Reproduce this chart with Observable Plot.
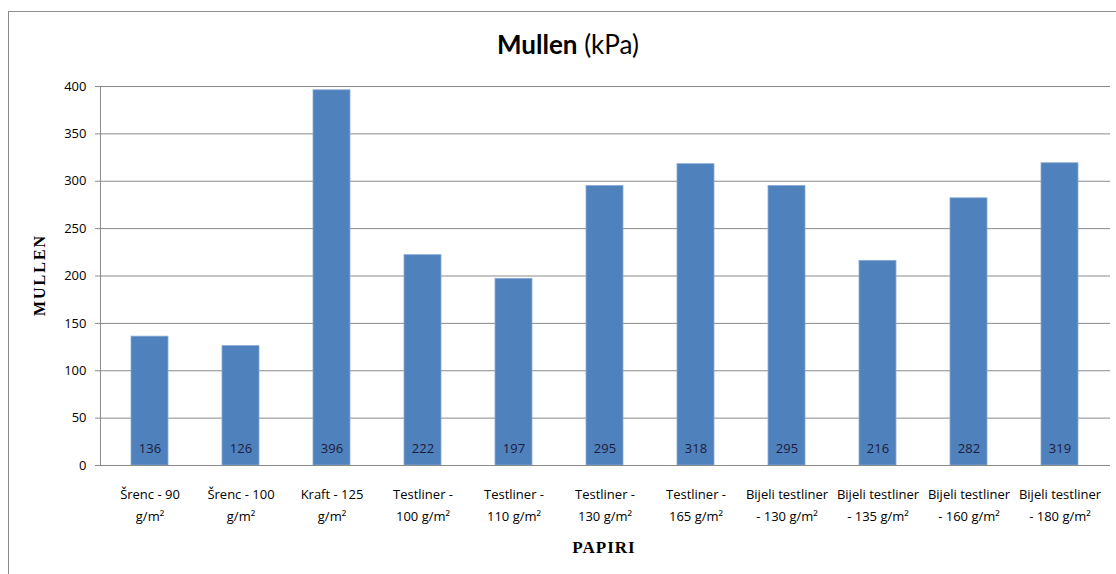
<!DOCTYPE html>
<html>
<head>
<meta charset="utf-8">
<script src="https://cdn.jsdelivr.net/npm/d3@7"></script>
<script src="https://cdn.jsdelivr.net/npm/@observablehq/plot@0.6"></script>
<style>
  html, body { margin: 0; padding: 0; background: #fff; overflow: hidden; }
  #wrap { position: relative; width: 1116px; height: 574px; }
  #frame { position: absolute; left: 8px; top: 11px; width: 1200px; height: 700px; border: 1px solid #8c8c8c; box-sizing: border-box; pointer-events: none; }
  #title { position: absolute; left: 0; width: 1136px; top: 28px; text-align: center; font-family: Lato, "Open Sans", sans-serif; font-size: 26px; color: #000; }
  #title b { font-weight: 700; }
  #ylab { position: absolute; left: 40px; top: 275px; transform: translate(-50%, -50%) rotate(-90deg); font-family: "Liberation Serif", "DejaVu Serif", serif; font-weight: bold; font-size: 16px; letter-spacing: 2px; white-space: nowrap; }
  #xlab { position: absolute; left: 604px; top: 548px; transform: translate(-50%, -50%); font-family: "Liberation Serif", "DejaVu Serif", serif; font-weight: bold; font-size: 17px; letter-spacing: 1px; white-space: nowrap; }
  #chart { position: absolute; left: 0; top: 0; }
</style>
</head>
<body>
<div id="wrap">
  <div id="chart"></div>
  <div id="frame"></div>
  <div id="title"><b>Mullen</b> (kPa)</div>
  <div id="ylab">MULLEN</div>
  <div id="xlab">PAPIRI</div>
</div>
<script>
const categories = [
  "Šrenc - 90\ng/m²",
  "Šrenc - 100\ng/m²",
  "Kraft - 125\ng/m²",
  "Testliner -\n100 g/m²",
  "Testliner -\n110 g/m²",
  "Testliner -\n130 g/m²",
  "Testliner -\n165 g/m²",
  "Bijeli testliner\n- 130 g/m²",
  "Bijeli testliner\n- 135 g/m²",
  "Bijeli testliner\n- 160 g/m²",
  "Bijeli testliner\n- 180 g/m²"
];
const values = [136, 126, 396, 222, 197, 295, 318, 295, 216, 282, 319];
const yTicks = [0, 50, 100, 150, 200, 250, 300, 350, 400];

const data = categories.map((c, i) => ({cat: c, v: values[i]}));

const chart = Plot.plot({
  width: 1116,
  height: 574,
  marginLeft: 100,
  marginRight: 6,
  marginTop: 86,
  marginBottom: 109,
  style: {fontFamily: "'Open Sans', Lato, sans-serif", background: "transparent"},
  x: {domain: categories, paddingInner: 0.59, paddingOuter: 0.295, label: null},
  y: {domain: [0, 400], label: null},
  marks: [
    Plot.ruleY(yTicks, {stroke: "#8a8a8a", strokeWidth: 1}),
    Plot.barY(data, {x: "cat", y: "v", fill: "#4f81bd", stroke: "#8aaad6", strokeWidth: 0.8}),
    Plot.frame({anchor: "left", stroke: "#8a8a8a"}),
    Plot.axisY({ticks: yTicks, tickSize: 5, tickPadding: 9, stroke: "#8a8a8a", fontSize: 13, fill: "#000", label: null}),
    Plot.axisX({tickSize: 0, tickPadding: 19, fontSize: 13, lineHeight: 1.62, fill: "#000", label: null, textAnchor: "middle"}),
    Plot.text(data, {x: "cat", y: 0, text: d => String(d.v), dy: -17, fill: "#1c1c3c", fontSize: 13}),
    Plot.ruleY([0], {stroke: "#8a8a8a"})
  ]
});
document.getElementById("chart").appendChild(chart);
</script>
</body>
</html>
